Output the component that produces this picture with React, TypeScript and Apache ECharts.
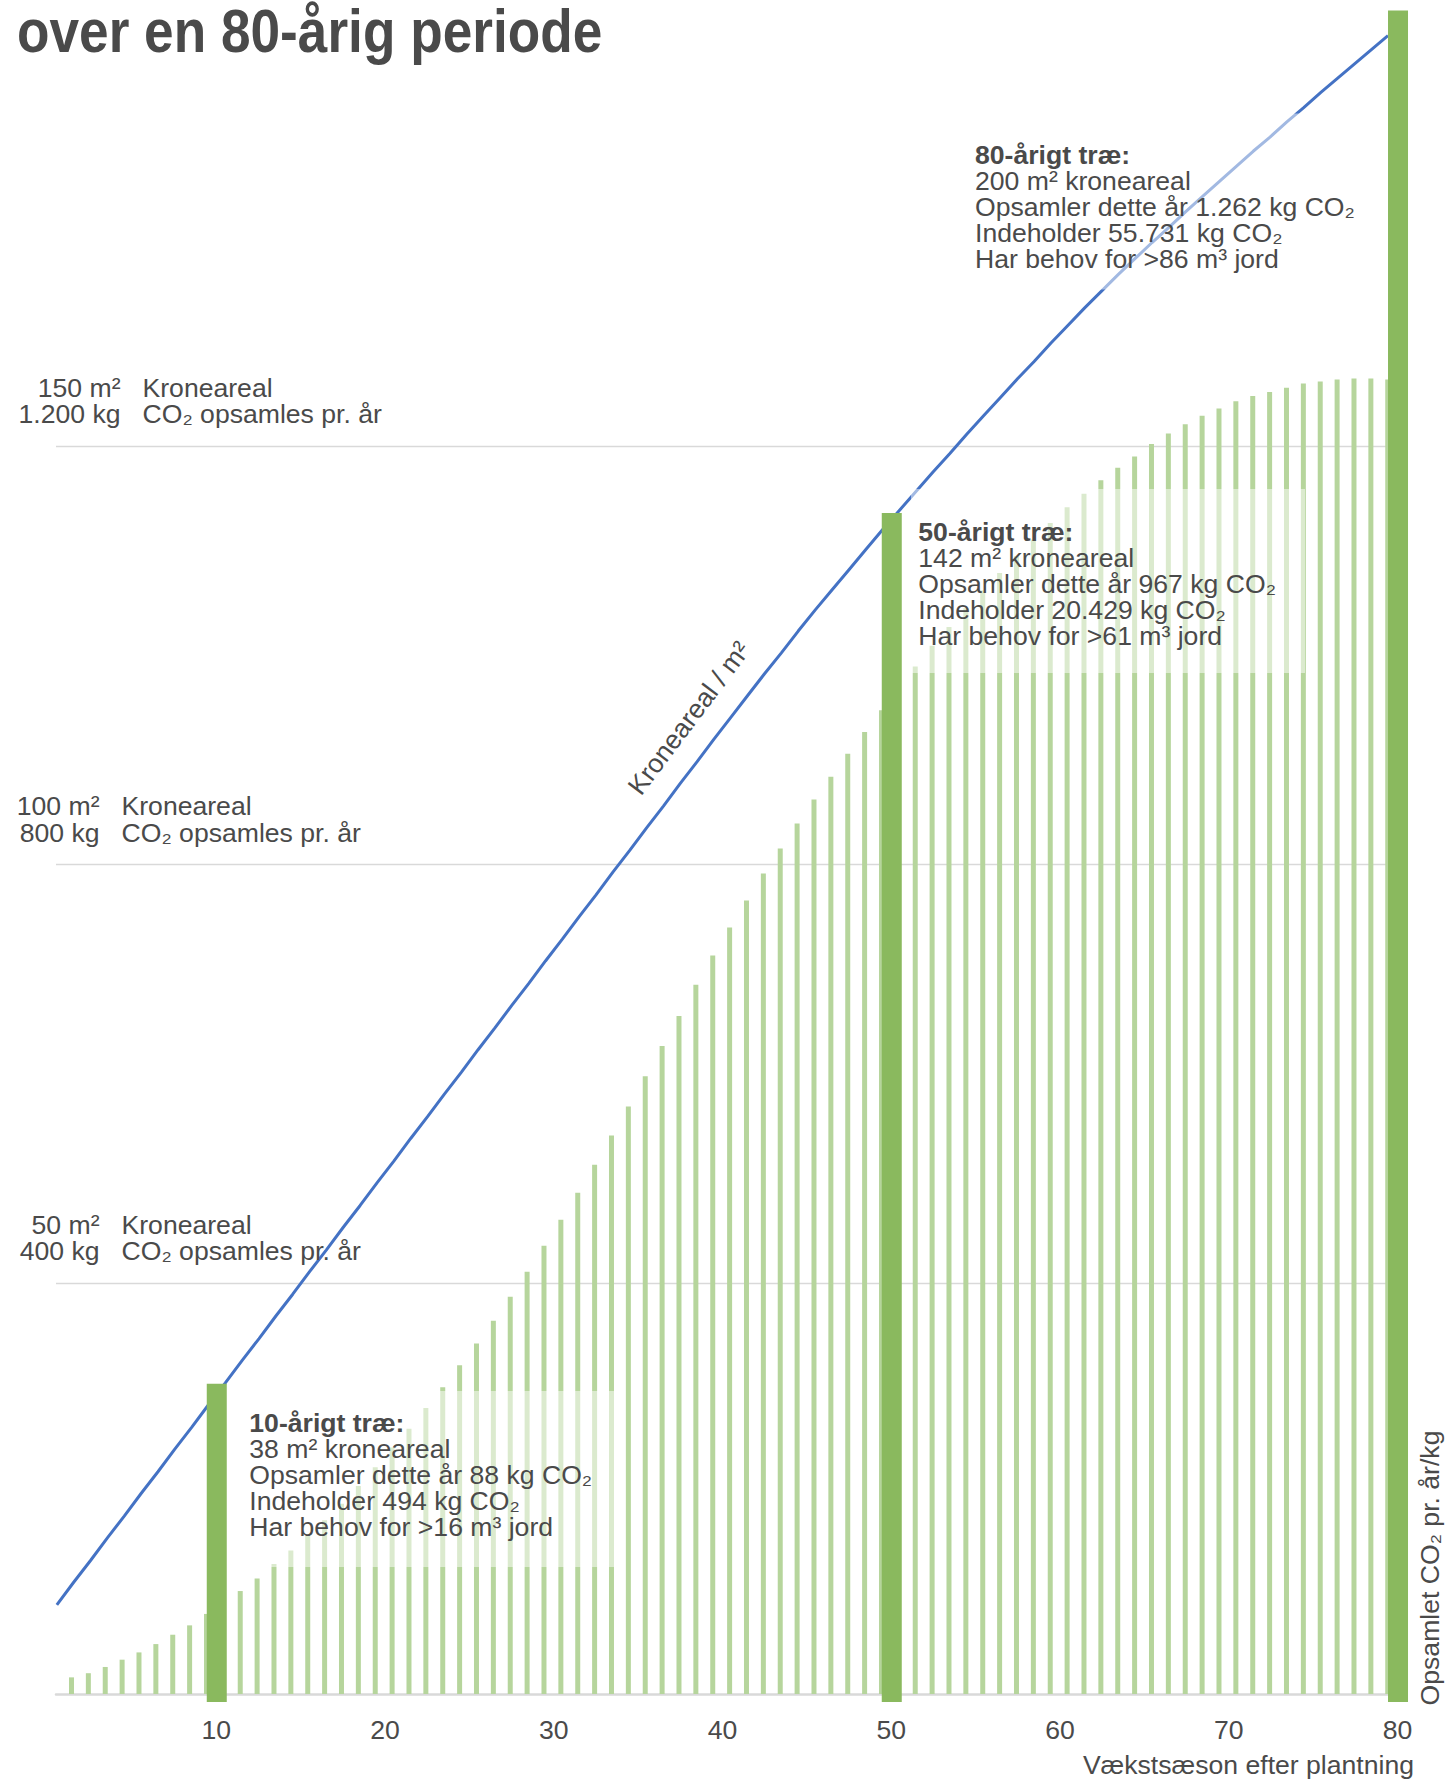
import React, { useEffect, useRef } from "react";
import * as echarts from "echarts";

// ---------- data ----------
const years = [
  1, 2, 3, 4, 5, 6, 7, 8, 9, 10, 11, 12, 13, 14, 15, 16, 17, 18, 19, 20,
  21, 22, 23, 24, 25, 26, 27, 28, 29, 30, 31, 32, 33, 34, 35, 36, 37, 38, 39, 40,
  41, 42, 43, 44, 45, 46, 47, 48, 49, 50, 51, 52, 53, 54, 55, 56, 57, 58, 59, 60,
  61, 62, 63, 64, 65, 66, 67, 68, 69, 70, 71, 72, 73, 74, 75, 76, 77, 78, 79, 80,
];

// CO2 collected per year (kg)
const co2PerYearKg = [
  16, 20, 26, 33, 40, 48, 57, 66, 77, 88,
  99, 111, 125, 138, 152, 167, 183, 200, 218, 237,
  255, 275, 295, 316, 337, 359, 382, 406, 431, 456,
  482, 509, 537, 565, 594, 623, 652, 682, 710, 737,
  763, 789, 813, 837, 860, 882, 904, 925, 946, 967,
  988, 1008, 1026, 1044, 1061, 1078, 1094, 1110, 1126, 1141,
  1154, 1167, 1179, 1190, 1202, 1212, 1221, 1229, 1236, 1243,
  1248, 1252, 1256, 1260, 1262, 1264, 1265, 1265, 1264, 1262,
];

// Crown area (m²)
const crownAreaM2 = [
  11.6, 14.3, 16.9, 19.6, 22.2, 24.9, 27.5, 30.2, 32.8, 35.5,
  38.1, 40.8, 43.4, 46.1, 48.7, 51.4, 54.0, 56.7, 59.3, 62.0,
  64.6, 67.3, 69.9, 72.6, 75.2, 77.9, 80.5, 83.2, 85.8, 88.5,
  91.1, 93.8, 96.4, 99.1, 101.7, 104.4, 107.0, 109.7, 112.3, 115.0,
  117.6, 120.2, 122.8, 125.3, 127.9, 130.4, 132.8, 135.2, 137.6, 140.0,
  142.3, 144.6, 146.9, 149.1, 151.4, 153.6, 155.8, 158.0, 160.1, 162.3,
  164.4, 166.5, 168.5, 170.5, 172.4, 174.3, 176.1, 178.0, 179.8, 181.6,
  183.4, 185.2, 186.9, 188.7, 190.4, 192.2, 193.9, 195.6, 197.3, 199.0,
];

const highlightYears = [10, 50, 80];
const highlightBarM2 = [38, 142, 202];
const highlightCrownM2 = [38, 142, 200];
const highlightCo2ThisYearKg = [88, 967, 1262];
const highlightStoredCo2Kg = [494, 20429, 55731];
const highlightSoilM3 = [16, 61, 86];

const crownTicksM2 = [50, 100, 150];
const co2TicksKg = [400, 800, 1200];
const xTickLabels = ["10", "20", "30", "40", "50", "60", "70", "80"];

const TITLE = "over en 80-årig periode";
const X_NAME = "Vækstsæson efter plantning";
const Y_NAME = "Opsamlet CO₂ pr. år/kg";
const LINE_NAME = "Kroneareal / m²";

// ---------- styles / layout ----------
const FONT = '"Liberation Sans", Arial, Helvetica, sans-serif';
const TEXT = "#4a4a4a";
const GRIDLINE = "#d9d9d9";
const LIGHT = "#b6d59c";
const DARK = "#8ab95e";
const BLUE = "#4472c4";
const BODY = 26.6;

const GROUP_NUM_RIGHT = [99.5, 99.5, 120.5];
const BOXES = [
  { x: 238, y: 1391, w: 382, h: 176, tx: 249.3, base: 1431.7 },
  { x: 911, y: 489, w: 394, h: 184, tx: 918.3, base: 540.7 },
  { x: 964, y: 113.6, w: 398, h: 176, tx: 975, base: 164 },
];

const fmt = (n: number) => String(n).replace(/\B(?=(\d{3})+(?!\d))/g, ".");

function buildOption(): any {
  const darkData = years.map((y) => {
    const i = highlightYears.indexOf(y);
    return i >= 0 ? highlightBarM2[i] : null;
  });
  return {
    animation: false,
    backgroundColor: "#ffffff",
    grid: { left: 56, right: 43, top: 446, bottom: 79, containLabel: false, outerBoundsMode: "none" },
    xAxis: [
      {
        type: "category",
        data: years.map(String),
        boundaryGap: true,
        axisLine: { show: true, onZero: true, onZeroAxisIndex: 1, lineStyle: { color: GRIDLINE, width: 2.5 } },
        axisTick: { show: false },
        axisLabel: {
          interval: (_i: number, v: string) => xTickLabels.indexOf(v) >= 0,
          margin: 14,
          fontSize: BODY,
          color: TEXT,
          fontFamily: FONT,
        },
        splitLine: { show: false },
      },
      { type: "value", min: 0.95, max: 81.07, show: false },
    ],
    yAxis: [
      {
        type: "value",
        position: "left",
        min: 0,
        max: 150,
        interval: 50,
        axisLine: { show: false },
        axisTick: { show: false },
        axisLabel: { show: false },
        splitLine: { show: true, showMinLine: false, lineStyle: { color: GRIDLINE, width: 1.3 } },
      },
      {
        type: "value",
        position: "right",
        min: -7.69,
        max: 1200,
        show: false,
        splitLine: { show: false },
      },
    ],
    series: [
      {
        type: "bar",
        name: "highlight",
        xAxisIndex: 0,
        yAxisIndex: 0,
        data: darkData,
        barWidth: 20,
        barGap: "-29.5%",
        itemStyle: { color: DARK },
        z: 4,
        clip: false,
        silent: true,
      },
      {
        type: "bar",
        name: "co2",
        xAxisIndex: 0,
        yAxisIndex: 1,
        data: co2PerYearKg,
        barWidth: 5,
        barGap: "-29.5%",
        itemStyle: { color: LIGHT },
        z: 2,
        clip: false,
        silent: true,
      },
      {
        type: "line",
        name: "crown",
        xAxisIndex: 1,
        yAxisIndex: 0,
        data: years.map((y, i) => [y, crownAreaM2[i]]),
        symbol: "none",
        showSymbol: false,
        lineStyle: { color: BLUE, width: 3 },
        z: 3,
        clip: false,
        silent: true,
      },
    ],
  };
}

function buildGraphic(chart: any): any[] {
  const els: any[] = [];
  const txt = (x: number, y: number, text: string, extra: any = {}, elExtra: any = {}) => ({
    type: "text",
    x,
    y,
    z: 20,
    silent: true,
    ...elExtra,
    style: {
      text,
      fill: TEXT,
      fontSize: BODY,
      lineHeight: 24,
      fontFamily: FONT,
      align: "left",
      verticalAlign: "middle",
      ...extra,
    },
  });

  els.push(
    txt(17, 30.5, TITLE, { fontSize: 61.5, lineHeight: 50, fontWeight: "bold" }, { scaleX: 0.865 })
  );

  crownTicksM2.forEach((m2, i) => {
    const gy = chart.convertToPixel({ yAxisIndex: 0 }, m2) as number;
    const right = GROUP_NUM_RIGHT[i];
    els.push(txt(right, gy - 58.5, `${m2} m²`, { align: "right" }));
    els.push(txt(right + 22, gy - 58.5, "Kroneareal"));
    els.push(txt(right, gy - 32, `${fmt(co2TicksKg[i])} kg`, { align: "right" }));
    els.push(txt(right + 22, gy - 32, "CO₂ opsamles pr. år"));
  });

  highlightYears.forEach((yr, i) => {
    const b = BOXES[i];
    els.push({
      type: "rect",
      z: 15,
      silent: true,
      shape: { x: b.x, y: b.y, width: b.w, height: b.h },
      style: { fill: "rgba(255,255,255,0.5)" },
    });
    const lines = [
      `${yr}-årigt træ:`,
      `${highlightCrownM2[i]} m² kroneareal`,
      `Opsamler dette år ${fmt(highlightCo2ThisYearKg[i])} kg CO₂`,
      `Indeholder ${fmt(highlightStoredCo2Kg[i])} kg CO₂`,
      `Har behov for >${highlightSoilM3[i]} m³ jord`,
    ];
    lines.forEach((t, j) =>
      els.push(txt(b.tx, b.base + j * 26.1 - 9, t, j === 0 ? { fontWeight: "bold" } : {}))
    );
  });

  els.push(txt(689, 718, LINE_NAME, { align: "center" }, { rotation: (53 * Math.PI) / 180 }));
  els.push(txt(1430, 1568, Y_NAME, { align: "center" }, { rotation: Math.PI / 2 }));
  els.push(txt(1414, 1765, X_NAME, { align: "right" }));
  return els;
}

export default function App() {
  const ref = useRef<HTMLDivElement>(null);
  useEffect(() => {
    if (!ref.current) return;
    const chart = echarts.init(ref.current, undefined, { renderer: "svg", width: 1449, height: 1781 });
    chart.setOption(buildOption());
    chart.setOption({ graphic: { elements: buildGraphic(chart) } });
    return () => chart.dispose();
  }, []);
  return (
    <div
      ref={ref}
      style={{ position: "absolute", left: 0, top: 0, width: 1449, height: 1781, background: "#fff" }}
    />
  );
}
